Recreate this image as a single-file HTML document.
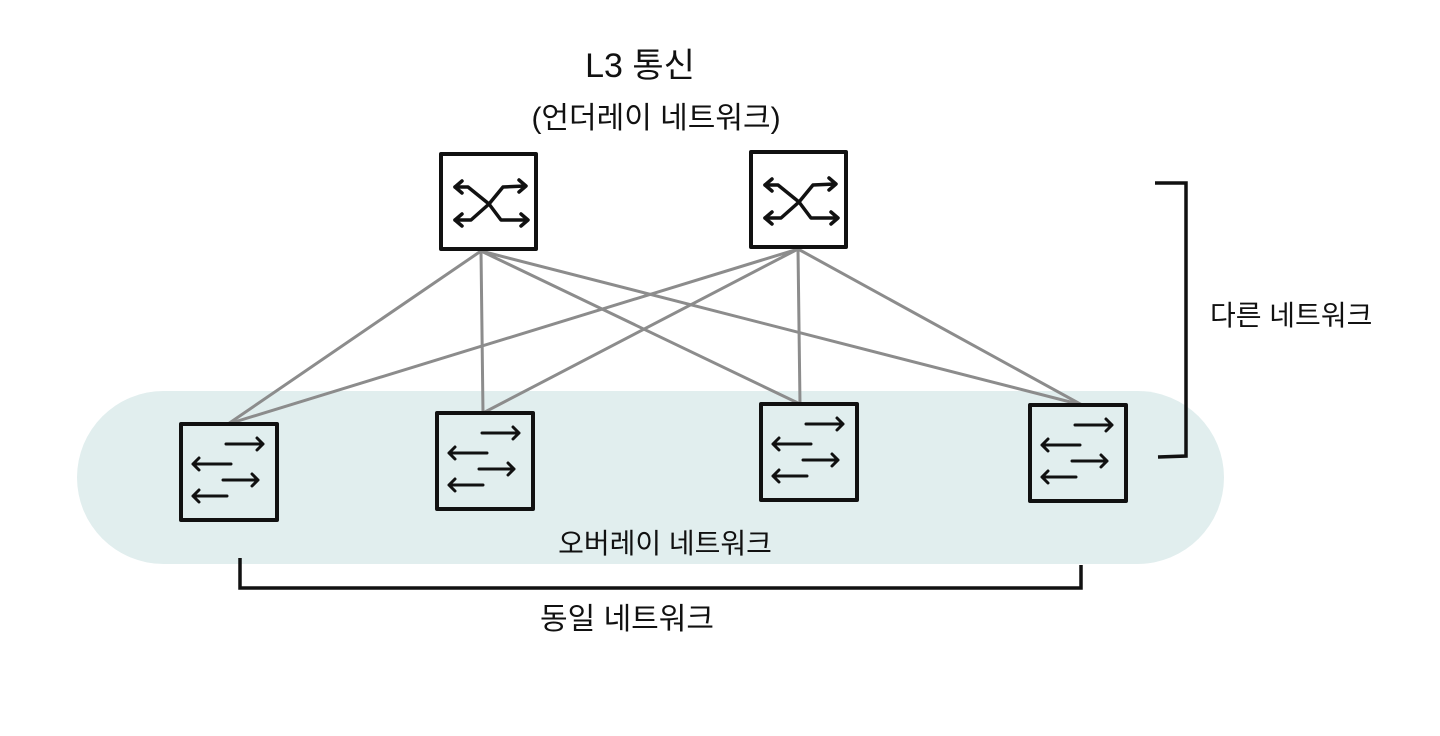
<!DOCTYPE html>
<html><head><meta charset="utf-8"><style>
html,body{margin:0;padding:0;background:#fff;width:1440px;height:736px;overflow:hidden}
text{font-family:"Liberation Sans","Noto Sans CJK KR","NanumGothic",sans-serif;fill:#111}
</style></head><body>
<svg width="1440" height="736" viewBox="0 0 1440 736" xmlns="http://www.w3.org/2000/svg">
<defs>
<g id="core" fill="none" stroke="#111" stroke-width="3.5" stroke-linecap="round" stroke-linejoin="round">
<rect x="0" y="0" width="95" height="95" fill="#fff" stroke-width="4"/>
<path d="M14 33 L27 33 L48 50 L60 66 L86 66"/>
<path d="M14 66 L30 66 L48 50 L62 33 L84 32"/>
<path d="M21 27 L14 33 L21 39"/><path d="M21 60 L14 66 L21 72"/>
<path d="M78 26 L85 32 L78 38"/><path d="M80 60 L87 66 L80 72"/>
</g>
<g id="acc" fill="none" stroke="#111" stroke-width="3" stroke-linecap="round" stroke-linejoin="round">
<rect x="0" y="0" width="96" height="96" fill="none" stroke-width="4"/>
<path d="M45 20 L82 20 M76 14 L82 20 L76 26"/>
<path d="M12 40 L50 40 M18 34 L12 40 L18 46"/>
<path d="M42 56 L77 56 M71 50 L77 56 L71 62"/>
<path d="M12 72 L46 72 M18 66 L12 72 L18 78"/>
</g>
</defs>
<rect x="77" y="391" width="1147" height="173" rx="86.5" fill="#e1eeee"/>
<g stroke="#8c8c8c" stroke-width="3" fill="none">
<path d="M481 251 L228 424 M481 251 L483 413 M481 251 L800 404 M481 251 L1082 405"/>
<path d="M798 249 L228 424 M798 249 L483 413 M798 249 L800 404 M798 249 L1082 405"/>
</g>
<use href="#core" x="441" y="154"/>
<use href="#core" x="751" y="152"/>
<use href="#acc" x="181" y="424"/>
<use href="#acc" x="437" y="413"/>
<use href="#acc" x="761" y="404"/>
<use href="#acc" x="1030" y="405"/>
<path d="M1155 183 L1186 183 L1186 456 L1158 457" fill="none" stroke="#111" stroke-width="3.5"/>
<path d="M240 558 L240 588 L1081 588 L1081 565" fill="none" stroke="#111" stroke-width="3.5"/>
<text x="640" y="77" font-size="34" text-anchor="middle">L3 통신</text>
<text x="656" y="128" font-size="30" text-anchor="middle">(언더레이 네트워크)</text>
<text x="1210" y="325" font-size="28">다른 네트워크</text>
<text x="665" y="553" font-size="28" text-anchor="middle">오버레이 네트워크</text>
<text x="627" y="629" font-size="30" text-anchor="middle">동일 네트워크</text>
</svg>
</body></html>
